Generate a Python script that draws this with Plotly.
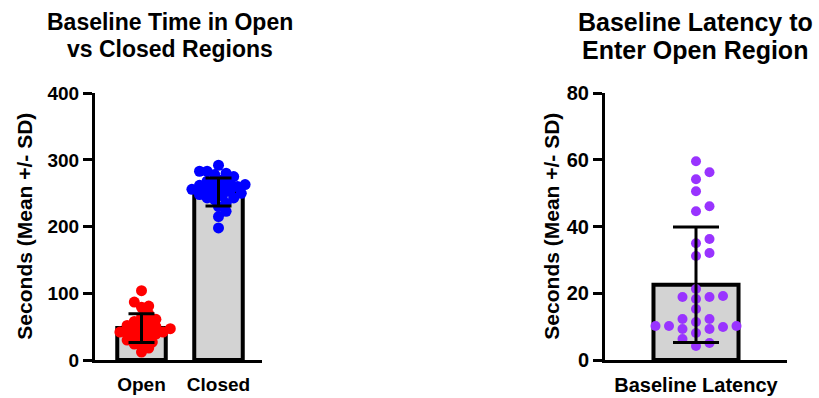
import plotly.graph_objects as go

W, H = 819, 398

# ---------------- data ----------------
left_cats = ["Open", "Closed"]
left_means = [48, 252]
left_sds = [21.5, 21]

open_vals = [104, 87, 81, 79, 69, 64, 61, 58, 57, 54, 52, 50, 47, 47, 46,
             44, 42, 42, 40, 39, 37, 36, 34, 30, 27, 24, 22, 18, 12]
closed_vals = [292, 283, 283, 280, 278, 275, 270, 268, 265, 265, 263, 262,
               260, 258, 256, 255, 253, 253, 250, 248, 246, 243, 243, 240,
               235, 230, 223, 215, 198]

right_cats = ["Baseline Latency"]
right_means = [22.6]
right_sds = [17.3]
latency_vals = [59.6, 56.3, 54.2, 50.6, 46.1, 44.6, 36.3, 35.0, 32.1, 31.2,
                21.3, 19.2, 18.9, 18.9, 18.3, 15.3, 12.3, 12.3, 11.4, 10.2,
                10.2, 10.2, 9.9, 9.3, 9.3, 8.1, 6.3, 5.1, 4.2]

left_yticks = [0, 100, 200, 300, 400]
right_yticks = [0, 20, 40, 60, 80]

# ---------------- layout geometry (pixels) ----------------
Y0_PX, YTOP_PX = 369.5, 87.0
L_X0, L_X1 = 95.0, 262.0
R_X0, R_X1 = 605.0, 787.0
L_RANGE = [-0.604, 1.565]
R_RANGE = [-1.07, 1.07]

ydom = [(H - Y0_PX) / H, (H - YTOP_PX) / H]
plot_h = Y0_PX - YTOP_PX
l_pxx = (L_X1 - L_X0) / (L_RANGE[1] - L_RANGE[0])
r_pxx = (R_X1 - R_X0) / (R_RANGE[1] - R_RANGE[0])
l_pxy = plot_h / 400.0
r_pxy = plot_h / 80.0


def swarm(vals, center, pxx, pxy, lane_px, min_d):
    """Simple beeswarm layout: put each point in the nearest free lane."""
    order = sorted(range(len(vals)), key=lambda i: vals[i])
    placed = []
    xs = [center] * len(vals)
    lanes = [0]
    for k in range(1, 40):
        lanes += [k, -k]
    for i in order:
        y = vals[i] * pxy
        for k in lanes:
            x = k * lane_px
            if all((x - a) ** 2 + (y - b) ** 2 >= min_d ** 2 for a, b in placed):
                break
        placed.append((x, y))
        xs[i] = center + x / pxx
    return xs


FONT = "Liberation Sans, Arial, sans-serif"

fig = go.Figure()

# ---- left panel ----
fig.add_trace(go.Bar(
    x=[0, 1], y=left_means, width=0.63,
    marker=dict(color="#D3D3D3", line=dict(color="black", width=4)),
    xaxis="x", yaxis="y", hoverinfo="skip"))
fig.add_trace(go.Scatter(
    x=swarm(open_vals, 0, l_pxx, l_pxy, 3.6, 6.8), y=open_vals, mode="markers",
    marker=dict(color="#FF0000", size=11), xaxis="x", yaxis="y"))
fig.add_trace(go.Scatter(
    x=swarm(closed_vals, 1, l_pxx, l_pxy, 3.8, 7.2), y=closed_vals, mode="markers",
    marker=dict(color="#0000FF", size=11), xaxis="x", yaxis="y"))
fig.add_trace(go.Scatter(
    x=[0, 1], y=left_means, mode="markers",
    marker=dict(color="rgba(0,0,0,0)", size=1),
    error_y=dict(type="data", array=left_sds, color="black", thickness=3, width=13),
    xaxis="x", yaxis="y"))

# ---- right panel ----
fig.add_trace(go.Bar(
    x=[0], y=right_means, width=1.0,
    marker=dict(color="#D3D3D3", line=dict(color="black", width=4)),
    xaxis="x2", yaxis="y2", hoverinfo="skip"))
fig.add_trace(go.Scatter(
    x=swarm(latency_vals, 0, r_pxx, r_pxy, 13.5, 9.5), y=latency_vals, mode="markers",
    marker=dict(color="#9933FF", size=10), xaxis="x2", yaxis="y2"))
fig.add_trace(go.Scatter(
    x=[0], y=right_means, mode="markers",
    marker=dict(color="rgba(0,0,0,0)", size=1),
    error_y=dict(type="data", array=right_sds, color="black", thickness=3, width=23),
    xaxis="x2", yaxis="y2"))

tickfont = dict(family=FONT, size=19, color="black", weight="bold")
tickfont_r = dict(family=FONT, size=20, color="black", weight="bold")
xcommon = dict(showline=True, linewidth=3, linecolor="black", showgrid=False,
               zeroline=False, ticks="outside", ticklen=5,
               tickcolor="rgba(0,0,0,0)", fixedrange=True)
ycommon = dict(showline=True, linewidth=3, linecolor="black", showgrid=False,
               zeroline=False, ticks="outside", ticklen=9, tickwidth=3,
               tickcolor="black", fixedrange=True)

fig.update_layout(
    width=W, height=H, margin=dict(l=0, r=0, t=0, b=0),
    paper_bgcolor="white", plot_bgcolor="white", showlegend=False,
    font=dict(family=FONT, color="black"),
    xaxis=dict(domain=[L_X0 / W, L_X1 / W], range=L_RANGE, tickfont=tickfont,
               tickvals=[0, 1], ticktext=left_cats, **xcommon),
    yaxis=dict(domain=ydom, range=[0, 400], tickvals=left_yticks, tickfont=tickfont,
               **ycommon),
    xaxis2=dict(domain=[R_X0 / W, R_X1 / W], range=R_RANGE, tickfont=tickfont_r,
                tickvals=[0], ticktext=right_cats, anchor="y2", **xcommon),
    yaxis2=dict(domain=ydom, range=[0, 80], tickvals=right_yticks, tickfont=tickfont_r,
                anchor="x2", **ycommon),
)

ylab_font = dict(family=FONT, size=21, color="black", weight="bold")
ymid = 1 - ((Y0_PX + YTOP_PX) / 2) / H


def line(text, xpx, ypx, size):
    fig.add_annotation(text=text, x=xpx / W, y=1 - ypx / H, xref="paper", yref="paper",
                       xanchor="center", yanchor="middle", showarrow=False,
                       font=dict(family=FONT, size=size, color="black", weight="bold"))


line("Baseline Time in Open", 170, 12, 23)
line("vs Closed Regions", 170, 40, 23)
line("Baseline Latency to", 695, 12, 25)
line("Enter Open Region", 695, 41, 25)

fig.add_annotation(text="Seconds (Mean +/- SD)", textangle=-90,
                   x=25 / W, y=ymid, xref="paper", yref="paper",
                   xanchor="center", yanchor="middle", showarrow=False, font=ylab_font)
fig.add_annotation(text="Seconds (Mean +/- SD)", textangle=-90,
                   x=552 / W, y=ymid, xref="paper", yref="paper",
                   xanchor="center", yanchor="middle", showarrow=False, font=ylab_font)

fig.write_html("out.html", config={"displayModeBar": False},
               post_script="document.body.style.margin='0';"
                           "document.documentElement.style.overflow='hidden';")
